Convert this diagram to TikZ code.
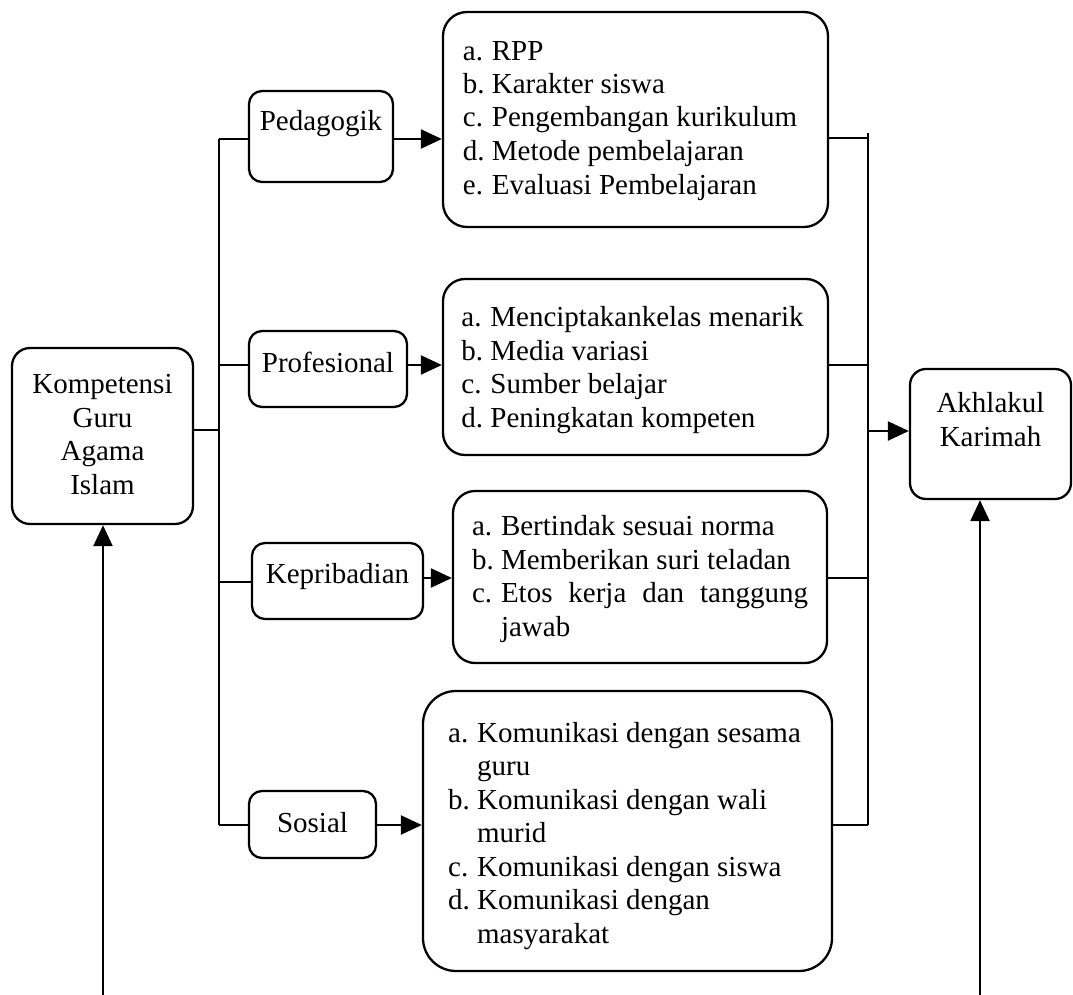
\documentclass[tikz,border=0pt]{standalone}
\usepackage{fontspec}
\setmainfont{Liberation Serif}
\usetikzlibrary{arrows.meta}
\newcommand\itm[2]{\makebox[29pt][l]{#1}#2}
\newcommand\cnt[1]{\hspace*{29pt}#1}
\begin{document}
\begin{tikzpicture}[x=1pt,y=-1pt,line width=2.3pt,
  font=\fontsize{29}{33.5}\selectfont,
  box/.style={draw,rounded corners=#1,inner sep=0pt,anchor=base},
  arr/.style={-{Triangle[length=21pt 0 0,width=19pt 0 0]}}]
\useasboundingbox (0,0) rectangle (1073,995);

% main nodes
\node[box=18pt,minimum width=181pt,text height=146pt,text depth=30pt] (kg) at (102.5,494)
  {\begin{tabular}[b]{@{}c@{}}Kompetensi\\Guru\\Agama\\Islam\end{tabular}};
\node[box=16pt,minimum width=161pt,text height=77pt,text depth=53pt] (ak) at (990.5,446)
  {\begin{tabular}[b]{@{}c@{}}Akhlakul\\Karimah\end{tabular}};

% competence boxes
\node[box=13pt,minimum width=144pt,text height=40pt,text depth=51pt] (ped) at (321,131) {Pedagogik};
\node[box=13pt,minimum width=158pt,text height=41pt,text depth=35pt] (pro) at (328,372) {Profesional};
\node[box=13pt,minimum width=171pt,text height=40pt,text depth=36pt] (kep) at (337.5,583) {Kepribadian};
\node[box=13pt,minimum width=127pt,text height=41pt,text depth=26pt] (sos) at (312.5,832) {Sosial};

% detail boxes
\node[box=24pt,minimum width=385pt,text height=182pt,text depth=33pt] (b1) at (635.5,194)
  {\begin{tabular}[b]{@{}l@{\hspace{11pt}}}
  \itm{a.}{RPP}\\
  \itm{b.}{Karakter siswa}\\
  \itm{c.}{Pengembangan kurikulum}\\
  \itm{d.}{Metode pembelajaran}\\
  \itm{e.}{Evaluasi Pembelajaran}
  \end{tabular}};
\node[box=22pt,minimum width=385pt,text height=148pt,text depth=28pt] (b2) at (635.5,427)
  {\begin{tabular}[b]{@{}l@{\hspace{6pt}}}
  \itm{a.}{Menciptakankelas menarik}\\
  \itm{b.}{Media variasi}\\
  \itm{c.}{Sumber belajar}\\
  \itm{d.}{Peningkatan kompeten}
  \end{tabular}};
\node[box=22pt,minimum width=374pt,text height=145pt,text depth=27pt] (b3) at (640,636)
  {\begin{tabular}[b]{@{}l@{}}
  \itm{a.}{Bertindak sesuai norma}\\
  \itm{b.}{Memberikan suri teladan}\\
  \itm{c.}{\hbox to 307pt{Etos\hfill kerja\hfill dan\hfill tanggung}}\\
  \cnt{jawab}
  \end{tabular}};
\node[box=33pt,minimum width=409pt,text height=252pt,text depth=28pt] (b4) at (627.5,943)
  {\begin{tabular}[b]{@{}l@{\hspace{6pt}}}
  \itm{a.}{Komunikasi dengan sesama}\\
  \cnt{guru}\\
  \itm{b.}{Komunikasi dengan wali}\\
  \cnt{murid}\\
  \itm{c.}{Komunikasi dengan siswa}\\
  \itm{d.}{Komunikasi dengan}\\
  \cnt{masyarakat}
  \end{tabular}};

% left bus
\coordinate (l1) at (219,139);
\coordinate (l2) at (219,365);
\coordinate (lk) at (219,430);
\coordinate (l3) at (219,582);
\coordinate (l4) at (219,825);
\draw (l1) -- (l4);
\draw (kg.east |- lk) -- (lk);
\draw (l1) -- (l1 -| ped.west);
\draw (l2) -- (l2 -| pro.west);
\draw (l3) -- (l3 -| kep.west);
\draw (l4) -- (l4 -| sos.west);

% arrows to detail boxes
\coordinate (a1) at (0,139);
\coordinate (a2) at (0,365);
\coordinate (a3) at (0,578);
\coordinate (a4) at (0,825);
\draw[arr] (ped.east |- a1) -- (b1.west |- a1);
\draw[arr] (pro.east |- a2) -- (b2.west |- a2);
\draw[arr] (kep.east |- a3) -- (b3.west |- a3);
\draw[arr] (sos.east |- a4) -- (b4.west |- a4);

% right bus
\coordinate (r0) at (868,133);
\coordinate (r1) at (868,138);
\coordinate (r2) at (868,365);
\coordinate (ra) at (868,431);
\coordinate (r3) at (868,578);
\coordinate (r4) at (868,825);
\draw (r0) -- (r4);
\draw (b1.east |- r1) -- (r1);
\draw (b2.east |- r2) -- (r2);
\draw (b3.east |- r3) -- (r3);
\draw (b4.east |- r4) -- (r4);
\draw[arr] (ra) -- (ra -| ak.west);

% bottom arrows
\coordinate (bl) at (103,995);
\coordinate (br) at (980,995);
\draw[arr] (bl) -- (bl |- kg.south);
\draw[arr] (br) -- (br |- ak.south);
\end{tikzpicture}
\end{document}
